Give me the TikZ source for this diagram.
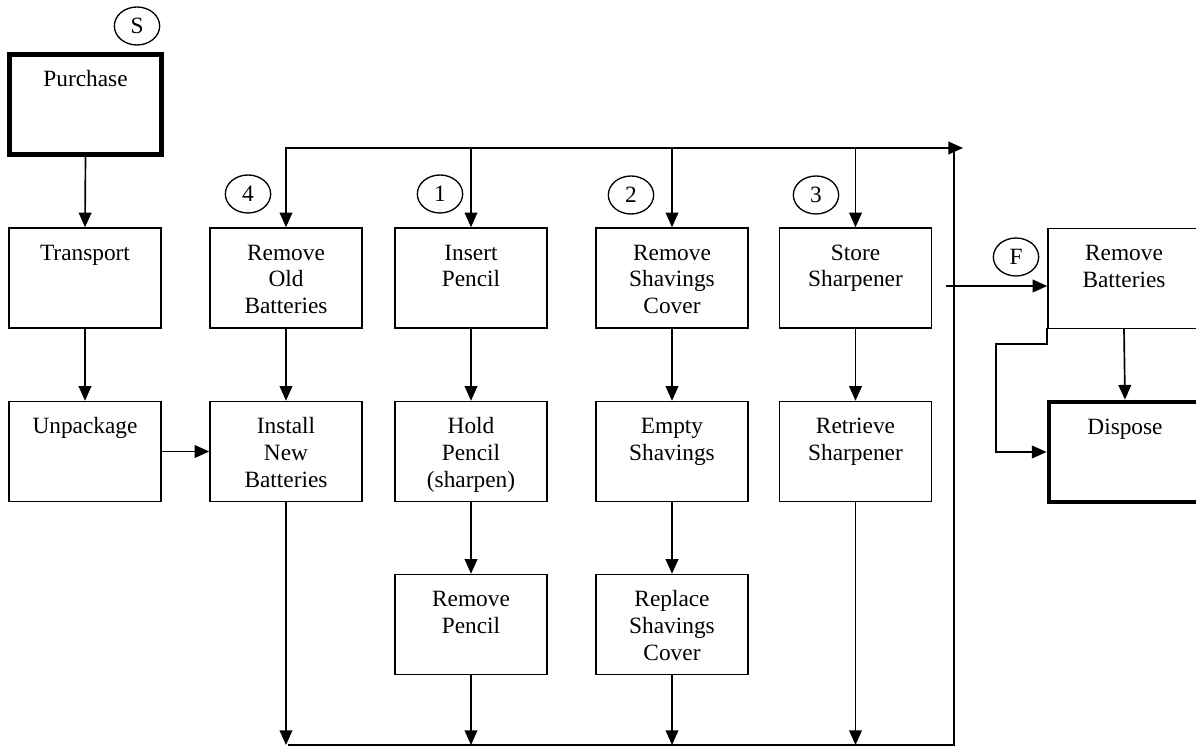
\documentclass[tikz,border=0pt]{standalone}
\usepackage{fontspec}
\setmainfont{Liberation Serif}
\usetikzlibrary{arrows.meta,shapes.geometric}
% text of a process box: set from the top edge, lines centred
\newcommand\boxlines[1]{\parbox[c][75pt][t]{112pt}{\centering\rule{0pt}{24.2pt}#1\par}}
\begin{document}
\begin{tikzpicture}[x=0.75pt,y=-0.75pt,
  every node/.style={font=\fontsize{17.5pt}{20pt}\selectfont},
  stepbox/.style={draw, line width=1.1pt, minimum width=114pt, minimum height=75pt, inner sep=0pt, fill=white},
  endbox/.style={stepbox, line width=3.6pt},
  tag/.style={draw, ellipse, line width=1pt, minimum width=34pt, minimum height=28.5pt, inner sep=0pt},
  link/.style={line width=1.25pt, line cap=rect, -{Triangle[width=9.5pt,length=11pt]}},
  wire/.style={line width=1.25pt, line cap=rect}]
\useasboundingbox (0,0) rectangle (1196,748);
\clip (0,0) rectangle (1196,748);

% process boxes
\node[endbox]  (pur) at (85.5,104.5) {\boxlines{Purchase}};
\node[stepbox] (tra) at (85,278)     {\boxlines{Transport}};
\node[stepbox] (unp) at (85,451.5)   {\boxlines{Unpackage}};
\node[stepbox] (rob) at (286,278)    {\boxlines{Remove\\Old\\Batteries}};
\node[stepbox] (inb) at (286,451.5)  {\boxlines{Install\\New\\Batteries}};
\node[stepbox] (ip)  at (471,278)    {\boxlines{Insert\\Pencil}};
\node[stepbox] (hp)  at (471,451.5)  {\boxlines{Hold\\Pencil\\(sharpen)}};
\node[stepbox] (rp)  at (471,624.5)  {\boxlines{Remove\\Pencil}};
\node[stepbox] (rsc) at (672,278)    {\boxlines{Remove\\Shavings\\Cover}};
\node[stepbox] (es)  at (672,451.5)  {\boxlines{Empty\\Shavings}};
\node[stepbox] (rpc) at (672,624.5)  {\boxlines{Replace\\Shavings\\Cover}};
\node[stepbox] (ss)  at (855.5,278)  {\boxlines{Store\\Sharpener}};
\node[stepbox] (rs)  at (855.5,451.5){\boxlines{Retrieve\\Sharpener}};
\node[stepbox] (rmb) at (1124,278.5) {\boxlines{Remove\\Batteries}};
\node[endbox]  (dis) at (1125,452)   {\boxlines{Dispose}};

% start, finish and loop-entry tags
\node[tag] (tS) at (137,26)   {S};
\node[tag] (t4) at (248,194)  {4};
\node[tag] (t1) at (440,194)  {1};
\node[tag] (t2) at (631,195)  {2};
\node[tag] (t3) at (816,195)  {3};
\node[tag] (tF) at (1016,257) {F};

% loop rails
\coordinate (topL)   at (286,148);
\coordinate (topR)   at (963,148);
\coordinate (retTop) at (954,148);
\coordinate (retBot) at (954,745);
\coordinate (botL)   at (289,745);
\coordinate (feed)   at (947,286);

% set-up chain
\draw[link] (pur.south) -- (tra.north);
\draw[link] (tra.south) -- (unp.north);
\draw[link] (unp.east) -- (inb.west);
\draw[link] (rob.south) -- (inb.north);

% sharpening, emptying and storing chains
\draw[link] (ip.south)  -- (hp.north);
\draw[link] (hp.south)  -- (rp.north);
\draw[link] (rsc.south) -- (es.north);
\draw[link] (es.south)  -- (rpc.north);
\draw[link] (ss.south)  -- (rs.north);

% top rail and drops into the loop entries
\draw[link] (topL) -- (topR);
\draw[link] (rob.north |- topL) -- (rob.north);
\draw[link] (ip.north |- topL)  -- (ip.north);
\draw[link] (rsc.north |- topL) -- (rsc.north);
\draw[link] (ss.north |- topL)  -- (ss.north);

% bottom rail and return line
\draw[wire] (botL) -- (retBot) -- (retTop);
\draw[link] (inb.south) -- (inb.south |- retBot);
\draw[link] (rp.south)  -- (rp.south |- retBot);
\draw[link] (rpc.south) -- (rpc.south |- retBot);
\draw[link] (rs.south)  -- (rs.south |- retBot);

% end of life
\draw[link] (feed) -- (feed -| rmb.west);
\draw[link] (rmb.south) -- (dis.north);
\draw[link] (rmb.south west) -- ++(0,15) -- ++(-51,0) |- (dis.west);
\end{tikzpicture}
\end{document}
